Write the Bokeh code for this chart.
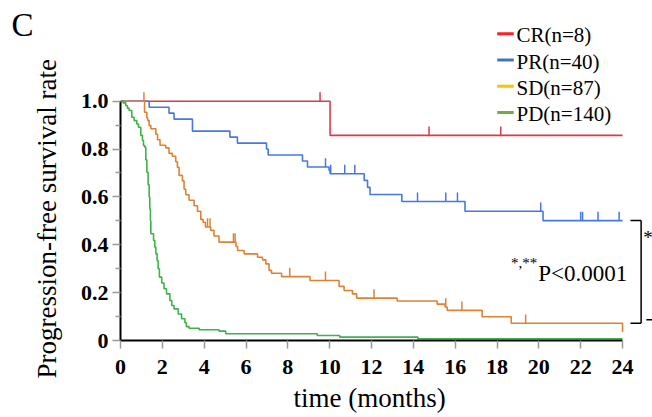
import numpy as np
from bokeh.plotting import figure
from bokeh.models import FixedTicker, Range1d, Title, LinearAxis, PrintfTickFormatter
from bokeh.embed import file_html
from bokeh.resources import INLINE
from bokeh.core.properties import value

SERIF = "Liberation Serif"

# ---------------- data ----------------
cr_t = [0, 10.02, 24]
cr_s = [1.0, 0.857, 0.857]
cr_cens = [9.54, 14.75, 18.18]

pr_t = [0, 1.37, 2.32, 2.56, 3.44, 5.23, 5.59, 6.98, 7.06, 8.70, 8.94, 9.97, 10.02,
        11.65, 11.81, 11.93, 13.45, 16.47, 20.20, 24]
pr_s = [1.0, 0.975, 0.95, 0.925, 0.875, 0.85, 0.825, 0.80, 0.775, 0.75, 0.725, 0.711, 0.697,
        0.669, 0.640, 0.610, 0.581, 0.540, 0.501, 0.501]
pr_cens = [9.80, 10.05, 10.72, 11.20, 14.20, 15.55, 16.11, 20.09, 22.00, 22.09, 22.83, 23.84]

sd_t = [0, 1.15, 1.26, 1.30, 1.37, 1.45, 1.69, 1.77, 1.89, 2.16, 2.32, 2.48, 2.64, 2.72,
        2.80, 2.96, 3.04, 3.12, 3.28, 3.52, 3.68, 3.84, 3.95, 4.06, 4.31, 4.47, 4.71, 5.52,
        5.60, 5.91, 6.55, 6.79, 6.95, 7.10, 7.22, 7.70, 9.06, 10.45, 10.69, 11.09, 11.29,
        13.23, 15.14, 15.52, 15.62, 17.29, 18.68, 24, 24]
sd_s = [1.0, 0.954, 0.931, 0.919, 0.898, 0.885, 0.862, 0.839, 0.816, 0.805, 0.782, 0.770,
        0.747, 0.724, 0.690, 0.667, 0.632, 0.609, 0.586, 0.563, 0.540, 0.506, 0.494, 0.474,
        0.460, 0.437, 0.411, 0.393, 0.376, 0.362, 0.348, 0.337, 0.320, 0.293, 0.281, 0.267,
        0.251, 0.226, 0.209, 0.195, 0.177, 0.165, 0.152, 0.140, 0.126, 0.099, 0.072, 0.035, 0.035]
sd_cens = [1.12, 4.16, 4.28, 5.40, 5.48, 8.09, 9.80, 12.12, 15.55, 16.32, 19.37]

pd_t = [0, 0.12, 0.25, 0.33, 0.41, 0.54, 0.65, 0.78, 0.86, 0.97, 1.05, 1.10, 1.16, 1.21,
        1.26, 1.32, 1.37, 1.40, 1.43, 1.45, 1.58, 1.64, 1.69, 1.75, 1.80, 1.86, 1.97, 2.08,
        2.20, 2.36, 2.45, 2.56, 2.76, 2.92, 3.08, 3.15, 3.28, 3.76, 4.71, 5.03, 9.41, 10.48,
        14.22, 24]
pd_s = [1.0, 0.993, 0.982, 0.971, 0.961, 0.933, 0.919, 0.905, 0.891, 0.857, 0.836, 0.815,
        0.808, 0.755, 0.703, 0.651, 0.600, 0.550, 0.500, 0.446, 0.418, 0.390, 0.362, 0.334,
        0.300, 0.265, 0.240, 0.216, 0.195, 0.167, 0.146, 0.132, 0.111, 0.091, 0.074, 0.058,
        0.051, 0.045, 0.039, 0.028, 0.021, 0.014, 0.007, 0.007]

legend_labels = ["CR(n=8)", "PR(n=40)", "SD(n=87)", "PD(n=140)"]
legend_colors = ["#ff1f1f", "#4472c4", "#ffc000", "#70ad47"]
curve_colors = ["#dc3a4a", "#4677e6", "#e08233", "#3db34a"]

x_ticks = list(range(0, 25, 2))
y_ticks = [0, 0.2, 0.4, 0.6, 0.8, 1.0]
y_minor = [0.1, 0.3, 0.5, 0.7, 0.9]

p_text = "P<0.0001"
p_sup = "*,**"
panel_letter = "C"
y_title = "Progression-free survival rate"

NB = "\u00a0"

# ---------------- figure ----------------
p = figure(width=652, height=417, output_backend="svg", toolbar_location=None,
           title=None,
           x_range=Range1d(0, 25.434), y_range=Range1d(0, 1.4208),
           min_border_left=120, min_border_right=0, min_border_top=0,
           min_border_bottom=77)
p.outline_line_color = None
p.grid.visible = False
p.background_fill_color = "white"
p.border_fill_color = "white"

xa = p.xaxis[0]
xa.ticker = FixedTicker(ticks=x_ticks, minor_ticks=[])
xa.bounds = (0, 24)
xa.axis_line_color = "black"
xa.axis_line_width = 2
xa.major_tick_line_color = "#9a9a9a"
xa.major_tick_line_width = 1.5
xa.major_tick_in = 0
xa.major_tick_out = 8
xa.minor_tick_line_color = None
xa.major_label_text_font = SERIF
xa.major_label_text_font_size = "22px"
xa.major_label_text_font_style = "bold"
xa.major_label_text_color = "black"
xa.major_label_standoff = 11
xa.axis_label = "time (months)" + NB * 5
xa.axis_label_text_font = SERIF
xa.axis_label_text_font_size = "27px"
xa.axis_label_text_font_style = "normal"
xa.axis_label_text_color = "black"
xa.axis_label_standoff = 6

ya = p.yaxis[0]
ya.ticker = FixedTicker(ticks=y_ticks, minor_ticks=y_minor)
ya.bounds = (0, 1.0)
ya.formatter = PrintfTickFormatter(format="%.1f")
ya.major_label_overrides = {0: "0"}
ya.axis_line_color = "black"
ya.axis_line_width = 2
ya.major_tick_line_color = "#9a9a9a"
ya.major_tick_line_width = 1.5
ya.major_tick_in = 0
ya.major_tick_out = 8
ya.minor_tick_line_color = "#9a9a9a"
ya.minor_tick_line_width = 1.5
ya.minor_tick_in = 0
ya.minor_tick_out = 5
ya.major_label_text_font = SERIF
ya.major_label_text_font_size = "22px"
ya.major_label_text_font_style = "bold"
ya.major_label_text_color = "black"
ya.major_label_standoff = 4

# y-axis title as a side-panel Title (lets it sit lower than the frame centre)
ytitle = Title(text=y_title, align="left", offset=-38, vertical_align="bottom",
               text_font=SERIF, text_font_size="27px", text_font_style="normal",
               text_color="black", standoff=32)
p.add_layout(ytitle, "left")

# panel letter "C" as the label of an invisible left axis
c_axis = LinearAxis(ticker=FixedTicker(ticks=[1.318], minor_ticks=[]),
                    major_label_overrides={1.318: panel_letter})
c_axis.axis_line_color = None
c_axis.major_tick_line_color = None
c_axis.minor_tick_line_color = None
c_axis.major_tick_out = 0
c_axis.major_label_standoff = -20
c_axis.major_label_text_font = SERIF
c_axis.major_label_text_font_size = "33px"
c_axis.major_label_text_font_style = "normal"
c_axis.major_label_text_color = "black"
p.add_layout(c_axis, "left")

# ---------------- curves ----------------
TICK = 0.037
groups = [(cr_t, cr_s, cr_cens), (pr_t, pr_s, pr_cens), (sd_t, sd_s, sd_cens), (pd_t, pd_s, [])]
for (t, s, cens), col in zip(groups, curve_colors):
    p.step(t, s, mode="after", line_color=col, line_width=1.6)
    if cens:
        ta = np.asarray(t)
        sa = np.asarray(s)
        c = np.asarray(cens)
        idx = np.searchsorted(ta, c, side="right") - 1
        v = sa[idx]
        p.segment(x0=c, x1=c, y0=v, y1=v + TICK, line_color=col, line_width=1.5)

# ---------------- legend (manual) ----------------
leg_x0, leg_x1, leg_tx = 18.01, 18.80, 18.93
leg_y0, leg_dy = 1.2817, 0.1095
leg_y = [leg_y0 - i * leg_dy for i in range(len(legend_labels))]
p.segment(x0=[leg_x0] * 4, x1=[leg_x1] * 4, y0=leg_y, y1=leg_y,
          line_color=legend_colors, line_width=3)
p.text(x=[leg_tx] * 4, y=[yy - 0.007 for yy in leg_y], text=legend_labels,
       text_font=value(SERIF), text_font_size="21px", text_color="black",
       text_align="left", text_baseline="middle")

# ---------------- p-value annotation ----------------
p.text(x=[19.97], y=[0.2787], text=[p_text], text_font=value(SERIF),
       text_font_size="23px", text_color="black", text_align="left",
       text_baseline="alphabetic")
p.text(x=[19.93], y=[0.322], text=[p_sup], text_font=value(SERIF),
       text_font_size="15px", text_color="black", text_align="right",
       text_baseline="alphabetic")

# bracket between PR and SD ends
bx, bx0 = 24.89, 24.38
top_v = pr_s[-1]
bot_v = sd_s[-3]
p.segment(x0=[bx, bx0, bx0], x1=[bx, bx, bx], y0=[top_v, top_v, bot_v], y1=[bot_v, top_v, bot_v],
          line_color="black", line_width=1.5)
p.text(x=[24.99], y=[0.4304], text=["*"], text_font=value(SERIF), text_font_size="19px",
       text_color="black", text_align="left", text_baseline="alphabetic")
p.segment(x0=[25.14], x1=[25.434], y0=[0.0865], y1=[0.0865], line_color="black", line_width=1.5)

open("out.html", "w").write(file_html(p, INLINE))
